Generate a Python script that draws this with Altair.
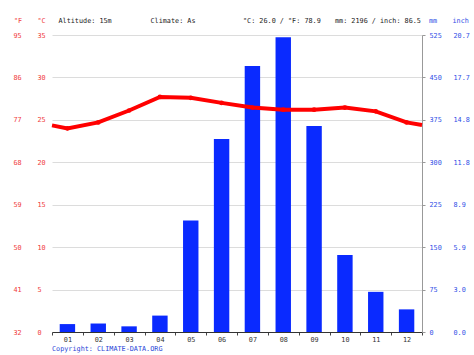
import altair as alt
import pandas as pd

# ---- data ----
months = ["01", "02", "03", "04", "05", "06", "07", "08", "09", "10", "11", "12"]
temp_c = [24.0, 24.7, 26.1, 27.7, 27.6, 27.0, 26.45, 26.2, 26.2, 26.45, 26.0, 24.7]
temp_edges = [24.35, 24.4]          # line value at the left / right edge of the plot
precip_mm = [14, 15, 10, 29, 197, 341, 470, 521, 364, 136, 71, 40]
c_ticks = [0, 5, 10, 15, 20, 25, 30, 35]
mm_ticks = [0, 75, 150, 225, 300, 375, 450, 525]
header_texts = ["°F", "°C", "Altitude: 15m", "Climate: As",
                "°C: 26.0 / °F: 78.9", "mm: 2196 / inch: 86.5", "mm", "inch"]
copyright_text = "Copyright: CLIMATE-DATA.ORG"

# ---- styling ----
FONT = "DejaVu Sans Mono"
FS = 6.8
RED = "#f03a3a"
BLUE = "#2f4fe6"
BAR = "#0a2aff"
LINE = "#ff0000"
GRID = "#dcdcdc"

n = len(months)
bars_df = pd.DataFrame({
    "month": months,
    "start": [i + 0.25 for i in range(n)],
    "end": [i + 0.75 for i in range(n)],
    "mm": precip_mm,
})
line_df = pd.DataFrame({
    "pos": [0.0] + [i + 0.5 for i in range(n)] + [float(n)],
    "temp": [temp_edges[0]] + temp_c + [temp_edges[1]],
})
pts_df = pd.DataFrame({"pos": [i + 0.5 for i in range(n)], "temp": temp_c})

xscale = alt.Scale(domain=[0, n], nice=False, zero=False)
tscale = alt.Scale(domain=[0, 35], nice=False, zero=False)
pscale = alt.Scale(domain=[0, 525], nice=False, zero=False)

month_expr = "datum.value < 12 ? (datum.value < 9 ? '0' : '') + format(datum.value + 1, 'd') : ''"
x_axis = alt.Axis(
    orient="bottom", values=list(range(n + 1)), labelExpr=month_expr,
    labelOffset=15.4, labelFlush=False, labelOverlap=False, labelBound=False,
    tickSize=3, tickColor="#444", domainColor="#333", domainWidth=1,
    labelPadding=1, labelFont=FONT, labelFontSize=FS, labelColor="#333",
    grid=False, title=None)

bars = alt.Chart(bars_df).mark_bar(color=BAR).encode(
    x=alt.X("start:Q", scale=xscale, axis=x_axis),
    x2="end:Q",
    y=alt.Y("mm:Q", scale=pscale, axis=alt.Axis(
        orient="right", values=mm_ticks, grid=False, domain=True, domainColor="#999",
        ticks=True, tickSize=3, tickColor="#999", labelAlign="left", labelPadding=4,
        labelFont=FONT, labelFontSize=FS, labelColor=BLUE, labelFlush=False,
        labelOverlap=False, title=None)),
    y2=alt.datum(0),
)

inch_axis = alt.Chart(bars_df).mark_bar(opacity=0).encode(
    x=alt.X("start:Q", scale=xscale, axis=x_axis),
    x2="end:Q",
    y=alt.Y("mm:Q", scale=pscale, axis=alt.Axis(
        orient="right", values=mm_ticks, grid=False, domain=False, ticks=False,
        tickSize=0, labelAlign="left", labelPadding=31,
        labelExpr="format(datum.value / 25.4, '.1f')",
        labelFont=FONT, labelFontSize=FS, labelColor=BLUE, labelFlush=False,
        labelOverlap=False, title=None)),
    y2=alt.datum(0),
)

line = alt.Chart(line_df).mark_line(color=LINE, strokeWidth=4).encode(
    x=alt.X("pos:Q", scale=xscale, axis=x_axis),
    y=alt.Y("temp:Q", scale=tscale, axis=alt.Axis(
        orient="left", values=c_ticks, grid=True, gridColor=GRID, gridWidth=1,
        domain=False, ticks=False, tickSize=0, labelAlign="left", labelPadding=15,
        labelFont=FONT, labelFontSize=FS, labelColor=RED, labelFlush=False,
        labelOverlap=False, title=None)),
)

f_axis = alt.Chart(line_df).mark_line(opacity=0).encode(
    x=alt.X("pos:Q", scale=xscale, axis=x_axis),
    y=alt.Y("temp:Q", scale=tscale, axis=alt.Axis(
        orient="left", values=c_ticks, grid=False, domain=False, ticks=False,
        tickSize=0, labelAlign="left", labelPadding=39,
        labelExpr="format(datum.value * 9 / 5 + 32, 'd')",
        labelFont=FONT, labelFontSize=FS, labelColor=RED, labelFlush=False,
        labelOverlap=False, title=None)),
)

points = alt.Chart(pts_df).mark_circle(color=LINE, size=22, opacity=1).encode(
    x=alt.X("pos:Q", scale=xscale, axis=x_axis),
    y=alt.Y("temp:Q", scale=tscale, axis=None),
)

# header / footer text (pixel positions relative to plot area)
header_x = [-38, -14.5, 6.5, 98.5, 191, 283, 377, 400.5]
header_col = [RED, RED, "#222", "#222", "#222", "#222", BLUE, BLUE]
texts = []
for t, xx, col in zip(header_texts, header_x, header_col):
    texts.append(alt.Chart(pd.DataFrame({"t": [t]})).mark_text(
        align="left", baseline="middle", font=FONT, fontSize=FS, color=col
    ).encode(x=alt.value(xx), y=alt.value(-14.5), text="t:N"))
texts.append(alt.Chart(pd.DataFrame({"t": [copyright_text]})).mark_text(
    align="left", baseline="middle", font=FONT, fontSize=FS, color="#2a46d8"
).encode(x=alt.value(0), y=alt.value(313.5), text="t:N"))

chart = alt.layer(bars, inch_axis, line, f_axis, points, *texts).resolve_scale(
    y="independent"
).resolve_axis(y="independent").properties(
    width=370, height=297,
    padding={"left": 52, "top": 35, "right": 52, "bottom": 23},
    autosize=alt.AutoSizeParams(type="none"),
    background="white",
).configure_view(stroke=None)

chart.save("out.html", embed_options={"renderer": "svg", "actions": False})
